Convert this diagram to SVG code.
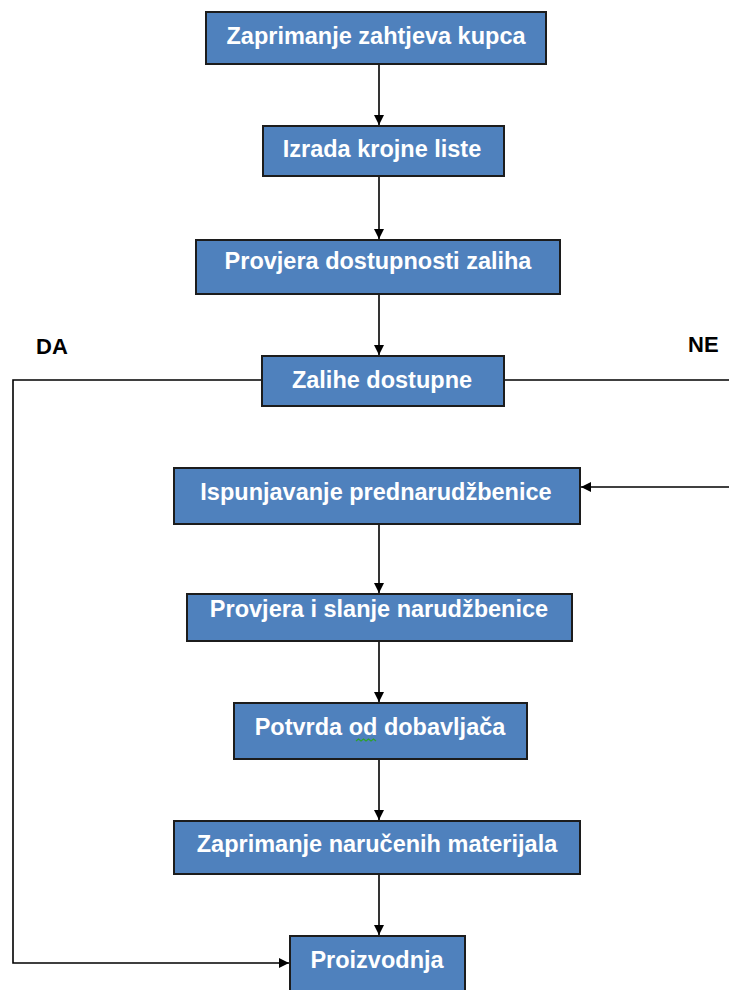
<svg xmlns="http://www.w3.org/2000/svg" width="729" height="990" viewBox="0 0 729 990">
<style>
.box{fill:#4F81BD;stroke:#1c1c1c;stroke-width:2}
.lbl{font-family:"Liberation Sans",Arial,sans-serif;font-weight:bold;font-size:23.5px;fill:#ffffff;text-anchor:middle}
.side{font-family:"Liberation Sans",Arial,sans-serif;font-weight:bold;font-size:22px;fill:#000000}
.c{fill:none;stroke:#000000;stroke-width:1.6}
</style>
<defs>
<marker id="ah" viewBox="0 0 10 10" refX="10" refY="5" markerWidth="10" markerHeight="10" markerUnits="userSpaceOnUse" orient="auto">
<path d="M0,0 L10,5 L0,10 z" fill="#000000"/>
</marker>
</defs>
<rect width="729" height="990" fill="#ffffff"/>
<g id="connectors">
<line class="c" x1="379" y1="64" x2="379" y2="125" marker-end="url(#ah)"/>
<line class="c" x1="379" y1="176" x2="379" y2="239" marker-end="url(#ah)"/>
<line class="c" x1="379" y1="294" x2="379" y2="355" marker-end="url(#ah)"/>
<polyline class="c" points="262,380 13,380 13,963 289,963" marker-end="url(#ah)"/>
<line class="c" x1="504" y1="380" x2="729" y2="380"/>
<line class="c" x1="729" y1="487" x2="581" y2="487" marker-end="url(#ah)"/>
<line class="c" x1="379" y1="524" x2="379" y2="593" marker-end="url(#ah)"/>
<line class="c" x1="379" y1="641" x2="379" y2="702" marker-end="url(#ah)"/>
<line class="c" x1="379" y1="759" x2="379" y2="820" marker-end="url(#ah)"/>
<line class="c" x1="379" y1="874" x2="379" y2="935" marker-end="url(#ah)"/>
</g>
<g id="n1"><rect class="box" x="206" y="12" width="340" height="52"/><text class="lbl" x="376" y="44">Zaprimanje zahtjeva kupca</text></g>
<g id="n2"><rect class="box" x="263" y="126" width="241" height="50"/><text class="lbl" x="382" y="157">Izrada krojne liste</text></g>
<g id="n3"><rect class="box" x="196" y="240" width="364" height="54"/><text class="lbl" x="378" y="269">Provjera dostupnosti zaliha</text></g>
<g id="n4"><rect class="box" x="262" y="356" width="242" height="50"/><text class="lbl" x="382" y="388">Zalihe dostupne</text></g>
<g id="n5"><rect class="box" x="174" y="468" width="406" height="56"/><text class="lbl" x="376" y="500">Ispunjavanje prednarudžbenice</text></g>
<g id="n6"><rect class="box" x="187" y="594" width="385" height="47"/><text class="lbl" x="379" y="617">Provjera i slanje narudžbenice</text></g>
<g id="n7"><rect class="box" x="234" y="703" width="293" height="56"/><text class="lbl" x="380" y="735">Potvrda od dobavljača</text>
<path d="M356,741 l2.5,-2 l2.5,2 l2.5,-2 l2.5,2 l2.5,-2 l2.5,2 l2.5,-2 l2.5,2" fill="none" stroke="#2ea02e" stroke-width="1.3"/></g>
<g id="n8"><rect class="box" x="174" y="821" width="406" height="53"/><text class="lbl" x="377" y="852">Zaprimanje naručenih materijala</text></g>
<g id="n9"><rect class="box" x="290" y="936" width="175" height="56"/><text class="lbl" x="377" y="968">Proizvodnja</text></g>
<text class="side" x="36" y="354">DA</text>
<text class="side" x="688" y="352">NE</text>
</svg>
